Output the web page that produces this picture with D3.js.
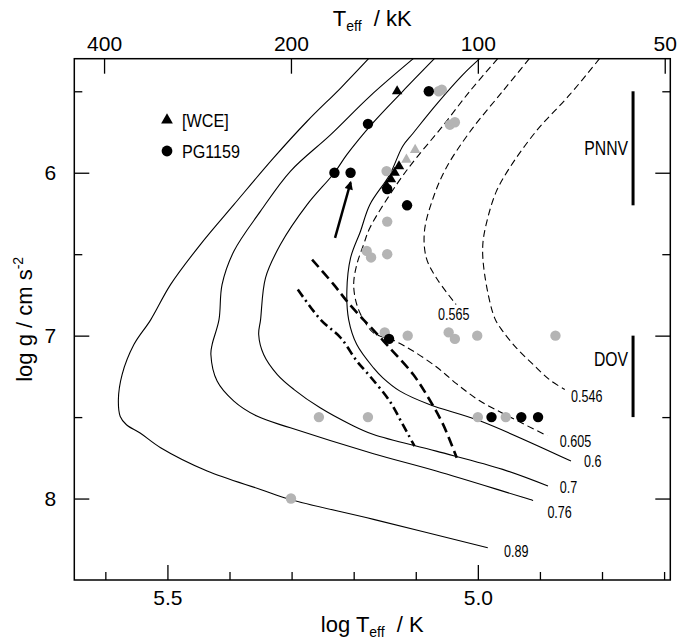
<!DOCTYPE html>
<html>
<head>
<meta charset="utf-8">
<script src="https://cdn.jsdelivr.net/npm/d3@7"></script>
<style>
body { margin: 0; background: #fff; }
svg { display: block; font-family: "Liberation Sans", Arial, Helvetica, sans-serif; }
</style>
</head>
<body>
<div id="graph"></div>
<script>
// tick values
var bottomMajor = [5.5, 5.0];
var bottomMinor = [5.6, 5.4, 5.3, 5.2, 5.1, 4.9, 4.8, 4.7];
var topTicks = [400, 200, 100, 50];
var gMajor = [6, 7, 8];
var gMinor = [5.5, 6.5, 7.5];

// evolutionary tracks, [log Teff, log g]
var track089 = [[5.176,5.30],[5.221,5.48],[5.275,5.684],[5.329,5.909],[5.393,6.196],[5.447,6.441],[5.495,6.687],[5.527,6.903],[5.554,7.055],[5.573,7.239],[5.579,7.394],[5.576,7.496],[5.566,7.547],[5.544,7.598],[5.511,7.688],[5.436,7.831],[5.350,7.944],[5.302,8.006],[5.168,8.128],[4.984,8.302]];
var track076 = [[5.104,5.30],[5.174,5.531],[5.237,5.766],[5.302,5.991],[5.350,6.236],[5.393,6.482],[5.412,6.687],[5.417,6.903],[5.428,7.055],[5.430,7.116],[5.420,7.279],[5.393,7.402],[5.356,7.494],[5.302,7.566],[5.168,7.725],[5.067,7.831],[4.911,8.012]];
var track07 = [[5.070,5.30],[5.121,5.50],[5.169,5.694],[5.211,5.889],[5.231,6.0],[5.275,6.196],[5.318,6.441],[5.342,6.645],[5.350,6.903],[5.353,6.993],[5.345,7.116],[5.323,7.239],[5.296,7.331],[5.254,7.443],[5.205,7.545],[5.168,7.607],[5.067,7.709],[4.960,7.821],[4.887,7.923]];
var track06 = [[4.997,5.30],[5.024,5.398],[5.067,5.582],[5.104,5.756],[5.121,5.837],[5.142,6.012],[5.174,6.196],[5.189,6.359],[5.205,6.523],[5.211,6.727],[5.208,6.903],[5.195,7.055],[5.168,7.198],[5.153,7.259],[5.126,7.339],[5.078,7.423],[4.997,7.523],[4.850,7.770]];
var track0605 = [[4.968,5.30],[5.013,5.50],[5.059,5.725],[5.099,5.909],[5.131,6.073],[5.174,6.339],[5.184,6.441],[5.195,6.564],[5.200,6.687],[5.195,6.809],[5.184,6.903],[5.168,6.983],[5.134,7.032],[5.105,7.093],[5.067,7.191],[5.034,7.296],[4.997,7.400],[4.949,7.498],[4.888,7.615]];
var track0565 = [[4.917,5.30],[4.960,5.50],[5.013,5.75],[5.051,5.971],[5.072,6.155],[5.086,6.359],[5.083,6.523],[5.067,6.645],[5.035,6.809]];
var track0546 = [[4.804,5.30],[4.852,5.521],[4.906,5.745],[4.949,5.971],[4.970,6.113],[4.984,6.277],[4.992,6.441],[4.989,6.625],[4.973,6.891],[4.960,6.972],[4.938,7.075],[4.911,7.177],[4.885,7.269],[4.860,7.331]];

var solidTracks = [track089, track076, track07, track06];
var dashedTracks = [track0605, track0565, track0546];

// track labels
var trackNames = ['0.89', '0.76', '0.7', '0.6', '0.605', '0.565', '0.546'];
var trackLabelT = [4.958, 4.888, 4.868, 4.829, 4.868, 5.064, 4.850];
var trackLabelG = [8.320, 8.079, 7.926, 7.767, 7.649, 6.868, 7.371];

// instability strip boundaries
var edgeDashed = [[5.267,6.533],[5.232,6.687],[5.211,6.788],[5.184,6.903],[5.174,6.942],[5.142,7.075],[5.104,7.239],[5.078,7.392],[5.056,7.545],[5.034,7.750]];
var edgeDashDot = [[5.290,6.717],[5.253,6.903],[5.221,7.013],[5.195,7.156],[5.174,7.248],[5.142,7.402],[5.121,7.545],[5.102,7.678]];
var arrowLine = [[5.230,6.40],[5.205,6.06]];

// objects
var pgT = [5.177, 5.231, 5.205, 5.079, 5.146, 5.114, 5.143, 4.978, 4.930, 4.903];
var pgG = [5.70, 6.00, 6.00, 5.50, 6.10, 6.20, 7.02, 7.50, 7.50, 7.50];
var wceT = [5.130, 5.127, 5.134, 5.140, 5.147];
var wceG = [5.50, 5.96, 6.00, 6.04, 6.08];
var grayTriT = [5.101, 5.115];
var grayTriG = [5.86, 5.92];
var grayCircT = [5.063, 5.058, 5.045, 5.037, 5.147, 5.146, 5.179, 5.172, 5.146, 5.150, 5.113, 5.047, 5.037, 5.001, 4.875, 5.256, 5.177, 5.000, 4.955, 5.301];
var grayCircG = [5.50, 5.49, 5.705, 5.69, 5.99, 6.30, 6.48, 6.52, 6.50, 6.98, 7.00, 6.98, 7.02, 7.00, 7.00, 7.50, 7.50, 7.50, 7.50, 8.00];

// pulsator regions
var bandNames = ['PNNV', 'DOV'];
var bandT = 4.75;
var bandG = [[5.5, 6.2], [7.0, 7.5]];
var bandLabelG = [5.846, 7.14];

const width = 686;
const height = 642;
const pLeft = 74.3, pRight = 670.3, pTop = 58.7, pBottom = 580;
const gray = '#b4b4b4';

const x = d3.scaleLinear().domain([5.65, 4.69]).range([pLeft, pRight]);
const y = d3.scaleLinear().domain([5.3, 8.5]).range([pTop, pBottom]);
const xTop = d3.scaleLog().domain([Math.pow(10, 2.65), Math.pow(10, 1.69)]).range([pLeft, pRight]);

let svg = d3.select('#graph')
    .append('svg')
    .attr('width', width)
    .attr('height', height);

let defs = svg.append('defs');
defs.append('clipPath').attr('id', 'plot')
    .append('rect')
    .attr('x', pLeft).attr('y', pTop)
    .attr('width', pRight - pLeft).attr('height', pBottom - pTop);

defs.append('marker')
    .attr('id', 'head')
    .attr('viewBox', '0 0 10 10')
    .attr('refX', 8).attr('refY', 5)
    .attr('markerWidth', 4).attr('markerHeight', 3.4)
    .attr('orient', 'auto')
    .append('path').attr('d', 'M0,0L10,5L0,10z').attr('fill', '#000');

function styleAxis(g, size) {
    g.attr('font-size', size)
        .attr('font-family', '"Liberation Sans", Arial, sans-serif')
        .attr('color', '#000');
    g.select('.domain').remove();
    g.selectAll('line').attr('stroke-width', 1.3);
}

// bottom axis
svg.append('g')
    .attr('transform', `translate(0,${pBottom})`)
    .call(d3.axisBottom(x).tickValues(bottomMajor).tickFormat(d3.format('.1f'))
        .tickSizeInner(-15).tickSizeOuter(0).tickPadding(10))
    .call(styleAxis, 21);
svg.append('g')
    .attr('transform', `translate(0,${pBottom})`)
    .call(d3.axisBottom(x).tickValues(bottomMinor).tickFormat('')
        .tickSizeInner(-8).tickSizeOuter(0))
    .call(styleAxis, 21);

// top axis, Teff in kK
svg.append('g')
    .attr('transform', `translate(0,${pTop})`)
    .call(d3.axisTop(xTop).tickValues(topTicks).tickFormat(d3.format('d'))
        .tickSizeInner(-15).tickSizeOuter(0).tickPadding(8))
    .call(styleAxis, 21);

// left axis
svg.append('g')
    .attr('transform', `translate(${pLeft},0)`)
    .call(d3.axisLeft(y).tickValues(gMajor).tickFormat(d3.format('d'))
        .tickSizeInner(-15).tickSizeOuter(0).tickPadding(18))
    .call(styleAxis, 21);
svg.append('g')
    .attr('transform', `translate(${pLeft},0)`)
    .call(d3.axisLeft(y).tickValues(gMinor).tickFormat('')
        .tickSizeInner(-8).tickSizeOuter(0))
    .call(styleAxis, 21);

// right axis
svg.append('g')
    .attr('transform', `translate(${pRight},0)`)
    .call(d3.axisRight(y).tickValues(gMajor).tickFormat('')
        .tickSizeInner(-15).tickSizeOuter(0))
    .call(styleAxis, 21);
svg.append('g')
    .attr('transform', `translate(${pRight},0)`)
    .call(d3.axisRight(y).tickValues(gMinor).tickFormat('')
        .tickSizeInner(-8).tickSizeOuter(0))
    .call(styleAxis, 21);

// frame
svg.append('rect')
    .attr('x', pLeft).attr('y', pTop)
    .attr('width', pRight - pLeft).attr('height', pBottom - pTop)
    .attr('fill', 'none').attr('stroke', '#000').attr('stroke-width', 1.5);

// axis titles
let tb = svg.append('text')
    .attr('x', (pLeft + pRight) / 2).attr('y', 632)
    .attr('text-anchor', 'middle').attr('font-size', 22)
    .style('white-space', 'pre');
tb.append('tspan').text('log T');
tb.append('tspan').attr('dy', 5).attr('font-size', 14).text('eff');
tb.append('tspan').attr('dy', -5).text('  / K');

let tt = svg.append('text')
    .attr('x', (pLeft + pRight) / 2).attr('y', 26)
    .attr('text-anchor', 'middle').attr('font-size', 22)
    .style('white-space', 'pre');
tt.append('tspan').text('T');
tt.append('tspan').attr('dy', 5).attr('font-size', 14).text('eff');
tt.append('tspan').attr('dy', -5).text('  / kK');

let ty = svg.append('text')
    .attr('transform', `translate(32,${(pTop + pBottom) / 2}) rotate(-90)`)
    .attr('text-anchor', 'middle').attr('font-size', 22);
ty.append('tspan').text('log g / cm s');
ty.append('tspan').attr('dy', -9).attr('font-size', 14).text('-2');

let plot = svg.append('g').attr('clip-path', 'url(#plot)');

const line = d3.line()
    .x((d) => x(d[0]))
    .y((d) => y(d[1]))
    .curve(d3.curveCatmullRom.alpha(0.5));

plot.selectAll('path.solid')
    .data(solidTracks)
    .enter()
    .append('path')
    .attr('class', 'solid')
    .attr('d', line)
    .attr('fill', 'none').attr('stroke', '#000').attr('stroke-width', 1.1);

plot.selectAll('path.dashed')
    .data(dashedTracks)
    .enter()
    .append('path')
    .attr('class', 'dashed')
    .attr('d', line)
    .attr('fill', 'none').attr('stroke', '#000').attr('stroke-width', 1.1)
    .attr('stroke-dasharray', '7,4');

plot.append('path')
    .attr('d', line(edgeDashed))
    .attr('fill', 'none').attr('stroke', '#000').attr('stroke-width', 2.6)
    .attr('stroke-dasharray', '10,5');

plot.append('path')
    .attr('d', line(edgeDashDot))
    .attr('fill', 'none').attr('stroke', '#000').attr('stroke-width', 2.6)
    .attr('stroke-dasharray', '9,4,2,4');

plot.append('path')
    .attr('d', d3.line().x((d) => x(d[0])).y((d) => y(d[1]))(arrowLine))
    .attr('fill', 'none').attr('stroke', '#000').attr('stroke-width', 2.5)
    .attr('marker-end', 'url(#head)');

// track labels (narrow type)
svg.selectAll('text.mass')
    .data(trackNames)
    .enter()
    .append('text')
    .attr('class', 'mass')
    .attr('transform', (d, i) => `translate(${x(trackLabelT[i])},${y(trackLabelG[i])}) scale(0.74,1)`)
    .attr('dy', '0.36em')
    .attr('font-size', 17)
    .text((d) => d);

// PNNV / DOV bars
svg.selectAll('line.band')
    .data(bandG)
    .enter()
    .append('line')
    .attr('class', 'band')
    .attr('x1', x(bandT)).attr('x2', x(bandT))
    .attr('y1', (d) => y(d[0])).attr('y2', (d) => y(d[1]))
    .attr('stroke', '#000').attr('stroke-width', 3);

svg.selectAll('text.band')
    .data(bandNames)
    .enter()
    .append('text')
    .attr('class', 'band')
    .attr('transform', (d, i) => `translate(${x(bandT) - 5},${y(bandLabelG[i])}) scale(0.75,1)`)
    .attr('dy', '0.36em')
    .attr('text-anchor', 'end')
    .attr('font-size', 21)
    .text((d) => d);

// objects
const tri = d3.symbol().type(d3.symbolTriangle).size(48);

plot.selectAll('circle.gray')
    .data(grayCircT)
    .enter()
    .append('circle')
    .attr('class', 'gray')
    .attr('cx', (d) => x(d))
    .attr('cy', (d, i) => y(grayCircG[i]))
    .attr('r', 5.2)
    .attr('fill', gray);

plot.selectAll('path.graytri')
    .data(grayTriT)
    .enter()
    .append('path')
    .attr('class', 'graytri')
    .attr('d', tri)
    .attr('transform', (d, i) => `translate(${x(d)},${y(grayTriG[i])})`)
    .attr('fill', gray);

plot.selectAll('path.wce')
    .data(wceT)
    .enter()
    .append('path')
    .attr('class', 'wce')
    .attr('d', tri)
    .attr('transform', (d, i) => `translate(${x(d)},${y(wceG[i])})`)
    .attr('fill', '#000');

plot.selectAll('circle.pg')
    .data(pgT)
    .enter()
    .append('circle')
    .attr('class', 'pg')
    .attr('cx', (d) => x(d))
    .attr('cy', (d, i) => y(pgG[i]))
    .attr('r', 5.2)
    .attr('fill', '#000');

// legend
let legend = svg.append('g').attr('transform', 'translate(167,120)');
legend.append('path').attr('d', d3.symbol().type(d3.symbolTriangle).size(60)).attr('fill', '#000');
legend.append('circle').attr('cy', 31).attr('r', 5.4).attr('fill', '#000');
legend.append('text').attr('transform', 'translate(15,0) scale(0.85,1)').attr('dy', '0.36em')
    .attr('font-size', 19).text('[WCE]');
legend.append('text').attr('transform', 'translate(15,31) scale(0.85,1)').attr('dy', '0.36em')
    .attr('font-size', 19).text('PG1159');
</script>
</body>
</html>
